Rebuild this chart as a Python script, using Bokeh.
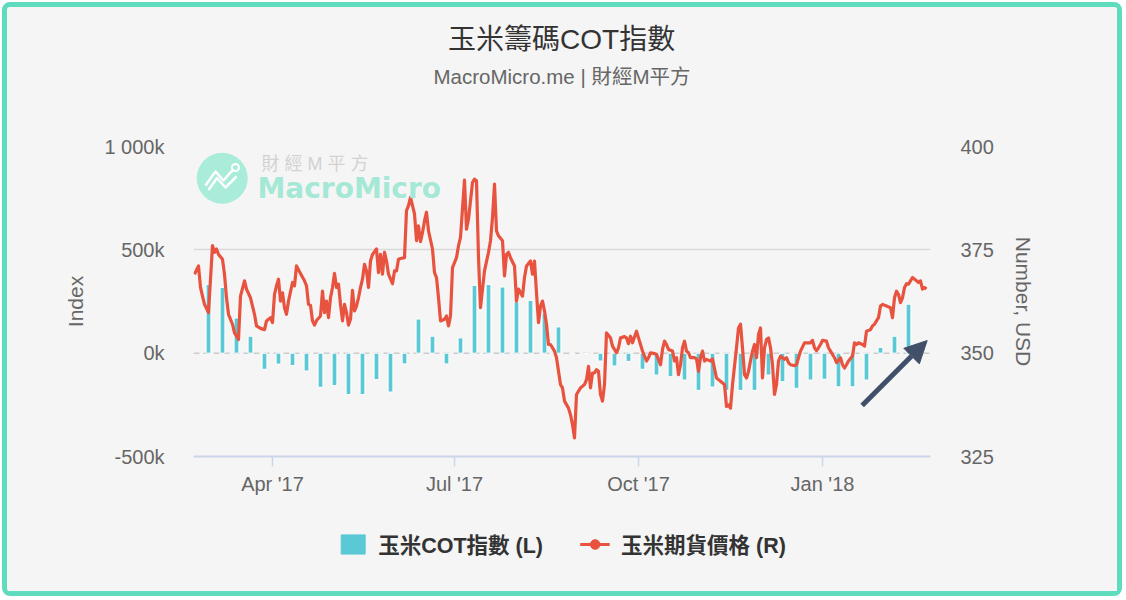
import numpy as np
import pandas as pd
from bokeh.plotting import figure
from bokeh.layouts import column
from bokeh.models import (Range1d, LinearAxis, FixedTicker, DatetimeTickFormatter,
                          ColumnDataSource, Legend, LegendItem, Label, Span, Arrow,
                          NormalHead)
from bokeh.embed import file_html
from bokeh.resources import INLINE

# ---------------- data ----------------
title_text = "玉米籌碼COT指數"
subtitle_text = "MacroMicro.me | 財經M平方"
left_axis_title = "Index"
right_axis_title = "Number, USD"
series_names = ["玉米COT指數 (L)", "玉米期貨價格 (R)"]
watermark_top = "財 經 M 平 方"
watermark_brand = "MacroMicro"

cot_dates = [
    "2017-02-28", "2017-03-07", "2017-03-14", "2017-03-21", "2017-03-28",
    "2017-04-04", "2017-04-11", "2017-04-18", "2017-04-25",
    "2017-05-02", "2017-05-09", "2017-05-16", "2017-05-23", "2017-05-30",
    "2017-06-06", "2017-06-13", "2017-06-20", "2017-06-27",
    "2017-07-04", "2017-07-11", "2017-07-18", "2017-07-25",
    "2017-08-01", "2017-08-08", "2017-08-15", "2017-08-22", "2017-08-29",
    "2017-09-05", "2017-09-12", "2017-09-19", "2017-09-26",
    "2017-10-03", "2017-10-10", "2017-10-17", "2017-10-24", "2017-10-31",
    "2017-11-07", "2017-11-14", "2017-11-21", "2017-11-28",
    "2017-12-05", "2017-12-12", "2017-12-19", "2017-12-26",
    "2018-01-02", "2018-01-09", "2018-01-16", "2018-01-23", "2018-01-30",
    "2018-02-06", "2018-02-13",
]
cot_values = [
    332000, 318000, 170000, 82000, -78000,
    -53000, -60000, -86000, -165000,
    -157000, -200000, -200000, -128000, -188000,
    -52000, 165000, 82000, -52000,
    74000, 328000, 332000, 320000,
    248000, 255000, 192000, 127000, -3000,
    -2000, -38000, -62000, -40000,
    -78000, -106000, -114000, -130000, -180000,
    -164000, -180000, -180000, -180000,
    -106000, -138000, -170000, -130000,
    -126000, -163000, -163000, -130000, 28000,
    82000, 237000,
]

price_dates = [
    "2017-02-21", "2017-02-23", "2017-02-24", "2017-02-25", "2017-02-26", "2017-02-28",
    "2017-03-02", "2017-03-03", "2017-03-04", "2017-03-05", "2017-03-07", "2017-03-08", "2017-03-09", "2017-03-10",
    "2017-03-12", "2017-03-13", "2017-03-15", "2017-03-16", "2017-03-18", "2017-03-19", "2017-03-21", "2017-03-23",
    "2017-03-24", "2017-03-26", "2017-03-28", "2017-03-29", "2017-03-31",
    "2017-04-01", "2017-04-02", "2017-04-03", "2017-04-04", "2017-04-05", "2017-04-06", "2017-04-07", "2017-04-08",
    "2017-04-09", "2017-04-11", "2017-04-12", "2017-04-13", "2017-04-15", "2017-04-17", "2017-04-18", "2017-04-19",
    "2017-04-20", "2017-04-21", "2017-04-22", "2017-04-23", "2017-04-25", "2017-04-26", "2017-04-27", "2017-04-28",
    "2017-04-29", "2017-04-30",
    "2017-05-01", "2017-05-02", "2017-05-03", "2017-05-04", "2017-05-05", "2017-05-06", "2017-05-07", "2017-05-08",
    "2017-05-09", "2017-05-10", "2017-05-11", "2017-05-12", "2017-05-13", "2017-05-14", "2017-05-15", "2017-05-16",
    "2017-05-17", "2017-05-18", "2017-05-19", "2017-05-20", "2017-05-21", "2017-05-23", "2017-05-24", "2017-05-25",
    "2017-05-26", "2017-05-27", "2017-05-28", "2017-05-29", "2017-05-31",
    "2017-06-01", "2017-06-02", "2017-06-03", "2017-06-04", "2017-06-06", "2017-06-07", "2017-06-08", "2017-06-09",
    "2017-06-11", "2017-06-12", "2017-06-13", "2017-06-14", "2017-06-15", "2017-06-16", "2017-06-17", "2017-06-18",
    "2017-06-20", "2017-06-21", "2017-06-22", "2017-06-23", "2017-06-24", "2017-06-26", "2017-06-27", "2017-06-28",
    "2017-06-29", "2017-06-30",
    "2017-07-02", "2017-07-03", "2017-07-04", "2017-07-06", "2017-07-07", "2017-07-08", "2017-07-10", "2017-07-11",
    "2017-07-12", "2017-07-13", "2017-07-14", "2017-07-15", "2017-07-16", "2017-07-18", "2017-07-19", "2017-07-20",
    "2017-07-21", "2017-07-22", "2017-07-23", "2017-07-25", "2017-07-26", "2017-07-27", "2017-07-28", "2017-07-29",
    "2017-07-31",
    "2017-08-01", "2017-08-02", "2017-08-04", "2017-08-05", "2017-08-06", "2017-08-08", "2017-08-09", "2017-08-10",
    "2017-08-11", "2017-08-12", "2017-08-13", "2017-08-14", "2017-08-15", "2017-08-16", "2017-08-17", "2017-08-18",
    "2017-08-20", "2017-08-21", "2017-08-23", "2017-08-24", "2017-08-25", "2017-08-27", "2017-08-28", "2017-08-29",
    "2017-08-30", "2017-08-31",
    "2017-09-02", "2017-09-04", "2017-09-05", "2017-09-06", "2017-09-07", "2017-09-08", "2017-09-09", "2017-09-10",
    "2017-09-11", "2017-09-12", "2017-09-13", "2017-09-14", "2017-09-15", "2017-09-17", "2017-09-18", "2017-09-20",
    "2017-09-21", "2017-09-22", "2017-09-24", "2017-09-25", "2017-09-26", "2017-09-27", "2017-09-28", "2017-09-30",
    "2017-10-01", "2017-10-02", "2017-10-03", "2017-10-05", "2017-10-06", "2017-10-07", "2017-10-09", "2017-10-10",
    "2017-10-12", "2017-10-13", "2017-10-14", "2017-10-15", "2017-10-16", "2017-10-18", "2017-10-19", "2017-10-20",
    "2017-10-21", "2017-10-22", "2017-10-23", "2017-10-24", "2017-10-25", "2017-10-26", "2017-10-27", "2017-10-29",
    "2017-10-30", "2017-10-31",
    "2017-11-01", "2017-11-02", "2017-11-03", "2017-11-04", "2017-11-06", "2017-11-07", "2017-11-09", "2017-11-10",
    "2017-11-11", "2017-11-13", "2017-11-14", "2017-11-15", "2017-11-16", "2017-11-17", "2017-11-19", "2017-11-20",
    "2017-11-21", "2017-11-22", "2017-11-23", "2017-11-24", "2017-11-25", "2017-11-26", "2017-11-27", "2017-11-28",
    "2017-11-29", "2017-11-30",
    "2017-12-01", "2017-12-02", "2017-12-03", "2017-12-04", "2017-12-05", "2017-12-06", "2017-12-07", "2017-12-08",
    "2017-12-09", "2017-12-10", "2017-12-11", "2017-12-13", "2017-12-14", "2017-12-15", "2017-12-16", "2017-12-18",
    "2017-12-19", "2017-12-20", "2017-12-21", "2017-12-23", "2017-12-24", "2017-12-26", "2017-12-27", "2017-12-28",
    "2017-12-29", "2017-12-30", "2017-12-31",
    "2018-01-01", "2018-01-03", "2018-01-04", "2018-01-05", "2018-01-07", "2018-01-08", "2018-01-09", "2018-01-10",
    "2018-01-11", "2018-01-12", "2018-01-13", "2018-01-14", "2018-01-16", "2018-01-17", "2018-01-18", "2018-01-19",
    "2018-01-21", "2018-01-22", "2018-01-23", "2018-01-25", "2018-01-26", "2018-01-27", "2018-01-28", "2018-01-29",
    "2018-01-30", "2018-01-31",
    "2018-02-02", "2018-02-04", "2018-02-05", "2018-02-06", "2018-02-07", "2018-02-08", "2018-02-09", "2018-02-10",
    "2018-02-11", "2018-02-12", "2018-02-13", "2018-02-14", "2018-02-15", "2018-02-17", "2018-02-18", "2018-02-19",
    "2018-02-20", "2018-02-21", "2018-02-22",
]
price_values = [
    369.1, 371.1, 365.9, 363.8, 361.8, 359.8,
    376.0, 374.4, 375.2, 373.9, 372.7, 369.1, 363.4, 359.4,
    357.0, 354.9, 353.3, 363.8, 367.5, 365.5, 363.4, 359.4,
    356.6, 356.0, 355.7, 357.8, 358.6,
    357.4, 364.2, 366.3, 367.9, 362.6, 364.6, 361.0, 359.4,
    362.6, 367.1, 366.3, 371.1, 369.3, 367.5, 366.3, 361.8,
    361.6, 357.8, 356.8, 357.9, 359.0, 365.0, 359.8, 362.6,
    358.6, 363.4,
    365.9, 369.3, 365.9, 366.7, 361.8, 357.8, 361.8, 359.8,
    356.8, 358.2, 365.2, 360.2, 361.4, 363.4, 365.9, 367.9,
    371.5, 369.9, 365.9, 372.3, 373.9, 375.2, 369.5, 373.9,
    369.1, 374.4, 372.3, 369.1, 366.8,
    369.9, 369.9, 372.7, 372.9, 373.1, 384.5, 385.7, 387.7,
    383.7, 377.2, 380.8, 377.0, 379.2, 382.0, 384.1, 379.6,
    375.2, 369.5, 368.3, 363.4, 357.8, 358.2, 359.0, 356.6,
    359.0, 370.7,
    373.1, 376.0, 378.0, 391.9, 380.0, 382.4, 391.3, 392.1,
    391.7, 373.1, 361.0, 365.5, 369.9, 374.4, 377.2, 382.8,
    390.9, 379.6, 378.4, 377.2, 368.7, 373.9, 374.4, 373.1,
    371.1,
    362.6, 365.5, 363.8, 368.3, 371.1, 372.3, 369.1, 372.3,
    364.6, 357.4, 361.4, 362.6, 360.2, 357.0, 352.1, 352.1,
    350.5, 348.9, 342.4, 341.6, 338.4, 336.7, 335.1, 332.7,
    329.5, 340.0,
    341.6, 342.4, 343.6, 346.8, 341.6, 345.2, 345.2, 346.0,
    345.6, 340.0, 338.4, 342.4, 354.9, 353.7, 351.7, 350.1,
    351.3, 353.7, 354.0, 353.7, 352.3, 354.1, 352.5, 355.3,
    353.7, 352.1, 350.5, 348.1, 348.9, 350.1, 349.9, 349.7,
    347.2, 350.9, 352.9, 352.1, 350.9, 350.5, 348.1, 348.9,
    344.8, 347.2, 351.3, 352.9, 350.5, 350.1, 348.9, 348.9,
    348.6, 345.6,
    348.9, 350.5, 348.1, 348.5, 348.1, 348.6, 344.0, 343.6,
    343.2, 342.4, 337.1, 337.5, 336.7, 342.4, 351.3, 356.1,
    357.0, 351.3, 344.8, 344.0, 345.6, 348.1, 350.5, 352.1,
    348.9, 354.5,
    356.1, 344.0, 351.3, 353.3, 353.7, 351.3, 347.2, 340.0,
    342.4, 348.1, 349.3, 348.5, 348.9, 347.7, 347.2, 347.0,
    347.2, 348.9, 350.5, 352.5, 352.5, 352.5, 353.1, 351.3,
    350.6, 351.3, 352.1,
    353.1, 352.9, 351.3, 350.5, 348.9, 347.7, 348.2, 348.9,
    347.2, 346.4, 347.2, 348.1, 349.3, 352.5, 352.1, 352.5,
    352.1, 351.7, 355.3, 355.7, 356.6, 357.0, 357.8, 358.6,
    361.4, 361.8,
    361.4, 361.0, 358.6, 363.4, 365.0, 364.2, 362.2, 363.4,
    365.9, 366.8, 366.7, 367.5, 368.3, 367.5, 367.1, 367.5,
    365.5, 365.9, 365.5,
]

left_ticks = [-500000, 0, 500000, 1000000]
left_tick_labels = ["-500k", "0k", "500k", "1 000k"]
right_ticks = [325, 350, 375, 400]
x_tick_dates = ["2017-04-01", "2017-07-01", "2017-10-01", "2018-01-01"]
x_start, x_end = "2017-02-20 12:00", "2018-02-24 00:00"
arrow_from = ("2018-01-20 20:00", -253000)
arrow_to = ("2018-02-22 08:00", 61000)

# ---------------- styling / layout ----------------
FONT = "Liberation Sans, Noto Sans CJK TC, sans-serif"
BAR_COLOR = "#5bc8d6"
LINE_COLOR = "#e8533f"
GRID_COLOR = "#d9d9d9"
AXIS_COLOR = "#ccd6eb"
BG = "#f5f5f5"
OX, OY = 7, 7                  # page position of the layout
W = 1110
HDR_H, MAIN_H, FTR_H = 127, 366, 91
MAIN_TOP = OY + HDR_H
PL, PT, PR, PB = 193, 146, 930, 456   # plot frame on the page


def ms(s):
    return pd.Timestamp(s).value / 1e6


X0, X1 = ms(x_start), ms(x_end)


def page_to_data(ax, ay):
    fx = (ax - PL) / (PR - PL)
    fy = (ay - PT) / (PB - PT)
    return X0 + fx * (X1 - X0), 1e6 - fy * 1.5e6


def blank_fig(h, xr, yr):
    f = figure(width=W, height=h, x_range=xr, y_range=yr,
               x_axis_location=None, y_axis_location=None, toolbar_location=None,
               output_backend="svg", min_border=0)
    f.grid.visible = False
    f.outline_line_color = None
    f.background_fill_color = BG
    f.border_fill_color = BG
    return f


# ---------- header: title / subtitle ----------
hdr = blank_fig(HDR_H, Range1d(OX, OX + W), Range1d(MAIN_TOP, OY))
hdr.add_layout(Label(x=561.5, y=39, text=title_text, text_align="center", text_baseline="middle",
                     text_font=FONT, text_font_size="28px", text_color="#333333"))
hdr.add_layout(Label(x=562, y=76, text=subtitle_text, text_align="center", text_baseline="middle",
                     text_font=FONT, text_font_size="20.5px", text_color="#666666"))

# ---------- main chart ----------
p = figure(width=W, height=MAIN_H, x_axis_type="datetime",
           x_range=Range1d(X0, X1), y_range=Range1d(-500000, 1000000),
           output_backend="svg", toolbar_location=None,
           min_border_left=PL - OX, min_border_right=OX + W - PR,
           min_border_top=PT - MAIN_TOP, min_border_bottom=MAIN_TOP + MAIN_H - PB)
p.extra_y_ranges = {"price": Range1d(325, 400)}
p.background_fill_color = BG
p.border_fill_color = BG
p.outline_line_color = None
p.xgrid.visible = False
p.ygrid.ticker = FixedTicker(ticks=[t for t in left_ticks if t > 0])
p.ygrid.grid_line_color = GRID_COLOR
p.ygrid.grid_line_width = 1.5

ly = p.yaxis[0]
ly.ticker = FixedTicker(ticks=left_ticks)
ly.major_label_overrides = {t: l for t, l in zip(left_ticks, left_tick_labels)}
ly.axis_line_color = None
ly.major_tick_line_color = None
ly.minor_tick_line_color = None
ly.major_tick_out = 0
ly.major_label_standoff = 29
ly.major_label_text_font = FONT
ly.major_label_text_font_size = "20px"
ly.major_label_text_color = "#666666"
ly.axis_label = left_axis_title
ly.axis_label_text_font = FONT
ly.axis_label_text_font_size = "21px"
ly.axis_label_text_font_style = "normal"
ly.axis_label_text_color = "#666666"
ly.axis_label_standoff = 14

ry = LinearAxis(y_range_name="price", ticker=FixedTicker(ticks=right_ticks))
ry.axis_line_color = None
ry.major_tick_line_color = None
ry.minor_tick_line_color = None
ry.major_tick_out = 0
ry.major_label_standoff = 30
ry.major_label_text_font = FONT
ry.major_label_text_font_size = "20px"
ry.major_label_text_color = "#666666"
ry.axis_label = right_axis_title
ry.axis_label_text_font = FONT
ry.axis_label_text_font_size = "21px"
ry.axis_label_text_font_style = "normal"
ry.axis_label_text_color = "#666666"
ry.axis_label_standoff = 15
p.add_layout(ry, "right")

bx = p.xaxis[0]
bx.ticker = FixedTicker(ticks=[ms(d) for d in x_tick_dates])
bx.formatter = DatetimeTickFormatter(years="%b '%y", months="%b '%y", days="%b '%y",
                                     hours="%b '%y", minutes="%b '%y")
bx.axis_line_color = AXIS_COLOR
bx.axis_line_width = 2
bx.major_tick_line_color = AXIS_COLOR
bx.major_tick_line_width = 1.5
bx.major_tick_in = 0
bx.major_tick_out = 10
bx.minor_tick_line_color = None
bx.major_label_standoff = 6
bx.major_label_text_font = FONT
bx.major_label_text_font_size = "20px"
bx.major_label_text_color = "#666666"

p.add_layout(Span(location=0, dimension="width", line_color="#cccccc",
                  line_width=1.5, line_dash="6 4", level="underlay"))

# watermark logo
cx, cy = page_to_data(221.7, 177.7)
p.scatter(x=[cx], y=[cy], size=51, marker="circle", fill_color="#a8ecd9", line_color=None)
for pts in ([(205, 185), (215, 171), (223, 180), (230, 172), (233.5, 168.5)],
            [(208, 189.5), (216.5, 177.5), (225, 187), (236, 176)]):
    xs, ys = zip(*[page_to_data(a, b) for a, b in pts])
    p.line(x=list(xs), y=list(ys), line_color="white", line_width=2.5, line_join="round")
rx, ryv = page_to_data(235, 167)
p.scatter(x=[rx], y=[ryv], size=7, marker="circle", fill_color="#a8ecd9",
          line_color="white", line_width=2)
for txt, (ax, ay), size, color, font, style in [
    (watermark_top, (261, 163.5), "18px", "#d2d2d2", FONT, "normal"),
    (watermark_brand, (257, 187.5), "28px", "#a6e8d6", "DejaVu Sans", "bold"),
]:
    p.add_layout(Label(x=ax - PL, y=PB - ay, x_units="screen", y_units="screen", text=txt,
                       text_align="left", text_baseline="middle", text_font_size=size,
                       text_color=color, text_font=font, text_font_style=style))

# series
cot_src = ColumnDataSource(dict(x=pd.to_datetime(cot_dates), top=cot_values))
p.vbar(x="x", top="top", width=2.4 * 86400000, source=cot_src,
       fill_color=BAR_COLOR, line_color="white", line_width=1)
price_src = ColumnDataSource(dict(x=pd.to_datetime(price_dates), y=price_values))
p.line(x="x", y="y", source=price_src, y_range_name="price",
       line_color=LINE_COLOR, line_width=3.2, line_join="round")

ARROW_C = "#415068"
p.add_layout(Arrow(end=NormalHead(size=22, fill_color=ARROW_C, line_color=ARROW_C, line_width=1),
                   x_start=ms(arrow_from[0]), y_start=arrow_from[1],
                   x_end=ms(arrow_to[0]), y_end=arrow_to[1],
                   line_color=ARROW_C, line_width=5))

# ---------- footer: legend (glyph-only proxies with empty values) ----------
ftr = blank_fig(FTR_H, Range1d(0, 1), Range1d(0, 1))
lb = ftr.vbar(x=[np.nan], top=[np.nan], width=0.1, fill_color=BAR_COLOR,
              line_color=BAR_COLOR, line_width=1)
ll = ftr.line(x=[np.nan, np.nan], y=[np.nan, np.nan], line_color=LINE_COLOR, line_width=3)
lm = ftr.scatter(x=[np.nan], y=[np.nan], marker="circle", size=12,
                 fill_color=LINE_COLOR, line_color=LINE_COLOR)
legend = Legend(items=[LegendItem(label=series_names[0], renderers=[lb]),
                       LegendItem(label=series_names[1], renderers=[ll, lm])],
                location="top_center", orientation="horizontal", padding=0, margin=28,
                spacing=37, label_standoff=11, glyph_width=30, glyph_height=24,
                label_text_font=FONT, label_text_font_size="21.5px",
                label_text_font_style="bold", label_text_color="#333333",
                background_fill_alpha=0, border_line_alpha=0)
ftr.add_layout(legend, "center")

layout = column(hdr, p, ftr, spacing=0,
                styles={"margin": f"{OY}px 0 0 {OX}px", "outline": "5px solid #5fdbbe",
                        "border-radius": "3px", "background-color": BG})

open("out.html", "w").write(file_html(layout, INLINE))
